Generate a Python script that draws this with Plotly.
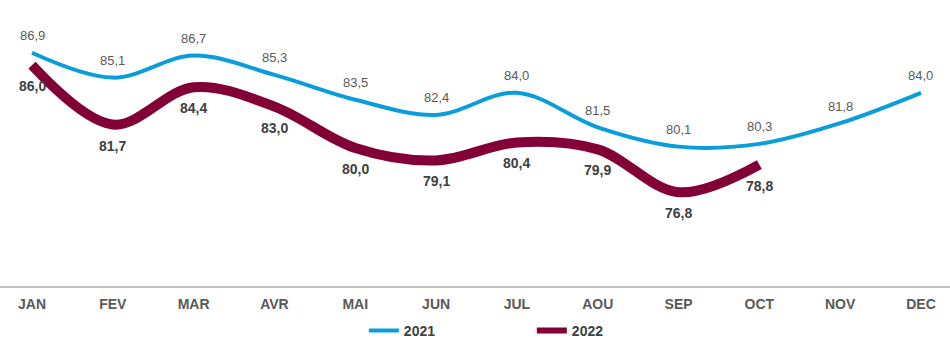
import plotly.graph_objects as go

months = ["JAN", "FEV", "MAR", "AVR", "MAI", "JUN", "JUL", "AOU", "SEP", "OCT", "NOV", "DEC"]
v2021 = [86.9, 85.1, 86.7, 85.3, 83.5, 82.4, 84.0, 81.5, 80.1, 80.3, 81.8, 84.0]
v2022 = [86.0, 81.7, 84.4, 83.0, 80.0, 79.1, 80.4, 79.9, 76.8, 78.8]

x21 = list(range(len(v2021)))
x22 = list(range(len(v2022)))

FONT = "Liberation Sans, Arial"
BLUE = "#0A9DDB"
MAROON = "#820035"

def fmt(v):
    return f"{v:.1f}".replace(".", ",")

fig = go.Figure()
fig.add_trace(go.Scatter(
    x=x21, y=v2021, mode="lines", name="2021",
    line=dict(color=BLUE, width=4, shape="spline", smoothing=1.0),
))
fig.add_trace(go.Scatter(
    x=x22, y=v2022, mode="lines", name="2022", showlegend=False, legendgroup="2022",
    line=dict(color=MAROON, width=10, shape="spline", smoothing=1.0),
))
# legend entry for 2022 (thinner swatch with a dot, as in the reference)
fig.add_trace(go.Scatter(
    x=[None], y=[None], mode="lines+markers", name="2022", legendgroup="2022",
    line=dict(color=MAROON, width=6), marker=dict(color=MAROON, size=5),
))

annotations = []
for xi, v in zip(x21, v2021):
    annotations.append(dict(x=xi, y=v, text=fmt(v), showarrow=False, yshift=17,
                            font=dict(family=FONT, size=13, color="#595959")))
for xi, v in zip(x22, v2022):
    annotations.append(dict(x=xi, y=v, text="<b>" + fmt(v) + "</b>", showarrow=False, yshift=-21,
                            font=dict(family=FONT, size=14, color="#404040")))

fig.update_layout(
    width=950, height=353,
    margin=dict(l=0, r=0, t=10, b=67, autoexpand=False),
    paper_bgcolor="white", plot_bgcolor="white",
    font=dict(family=FONT, color="#595959"),
    annotations=annotations,
    showlegend=True,
    legend=dict(orientation="h", x=0.383, xanchor="left", y=-0.163, yanchor="middle",
                entrywidth=123, entrywidthmode="pixels",
                font=dict(family=FONT, size=14, color="#404040", weight="bold"),
                itemwidth=30),
    xaxis=dict(
        tickmode="array", tickvals=x21, ticktext=["<b>" + m + "</b>" for m in months],
        range=[-0.396, 11.359], showgrid=False, zeroline=False,
        showline=True, linecolor="#BFBFBF", linewidth=1.5, ticks="",
        ticklabelstandoff=4,
        tickfont=dict(family=FONT, size=14, color="#595959"),
    ),
    yaxis=dict(range=[70, 90], visible=False, showgrid=False, zeroline=False),
)

fig.write_html("out.html")
